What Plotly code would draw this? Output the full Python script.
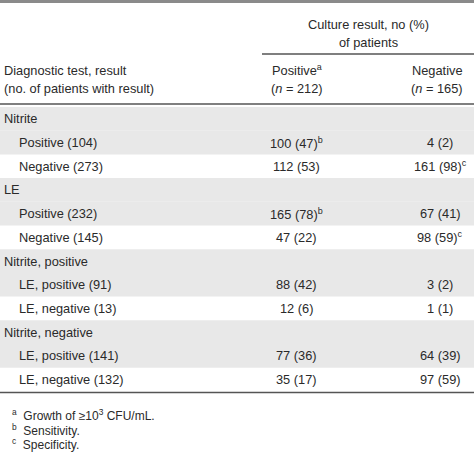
import plotly.graph_objects as go

row_labels = ["Nitrite", "Positive (104)", "Negative (273)", "LE", "Positive (232)", "Negative (145)",
              "Nitrite, positive", "LE, positive (91)", "LE, negative (13)",
              "Nitrite, negative", "LE, positive (141)", "LE, negative (132)"]
is_section = [1, 0, 0, 1, 0, 0, 1, 0, 0, 1, 0, 0]
pos_vals = ["", "100 (47)<sup>b</sup>", "112 (53)", "", "165 (78)<sup>b</sup>", "47 (22)",
            "", "88 (42)", "12 (6)", "", "77 (36)", "35 (17)"]
neg_vals = ["", "4 (2)", "161 (98)<sup>c</sup>", "", "67 (41)", "98 (59)<sup>c</sup>",
            "", "3 (2)", "1 (1)", "", "64 (39)", "97 (59)"]
shaded = [1, 1, 0, 1, 1, 0, 1, 1, 0, 1, 1, 0]
footnotes = ["<sup>a</sup>  Growth of ≥10<sup>3</sup> CFU/mL.", "<sup>b</sup>  Sensitivity.", "<sup>c</sup>  Specificity."]

W, H = 474, 454
top, rh = 107, 23.7
font = dict(family="Liberation Sans, Arial", size=12.8, color="#2a2a2a")
fig = go.Figure()
shapes, ann = [], []

def text(x, y, t, anchor="left"):
    ann.append(dict(x=x, y=y, text=t, showarrow=False, xanchor=anchor, yanchor="middle", font=font))

shapes.append(dict(type="line", x0=0, x1=W, y0=1.5, y1=1.5, line=dict(color="#8a8a8a", width=3)))
text(368, 24, "Culture result, no (%)", "center")
text(368, 42, "of patients", "center")
shapes.append(dict(type="line", x0=262, x1=W, y0=54, y1=54, line=dict(color="#555", width=1.5)))
text(2, 70, "Diagnostic test, result")
text(2, 88, "(no. of patients with result)")
text(297, 70, "Positive<sup>a</sup>", "center")
text(297, 88, "(<i>n</i> = 212)", "center")
text(437, 70, "Negative", "center")
text(437, 88, "(<i>n</i> = 165)", "center")

for i, lab in enumerate(row_labels):
    y0 = top + i * rh
    yc = y0 + rh / 2
    if shaded[i]:
        shapes.append(dict(type="rect", x0=0, x1=W, y0=y0, y1=y0 + rh, fillcolor="#e8e8e8", line=dict(width=0), layer="below"))
    text(2 if is_section[i] else 17, yc, lab)
    if pos_vals[i]:
        text(296, yc, pos_vals[i], "center")
    if neg_vals[i]:
        text(440, yc, neg_vals[i], "center")

shapes.append(dict(type="line", x0=0, x1=W, y0=top - 3, y1=top - 3, line=dict(color="#555", width=1.5)))
yb = top + len(row_labels) * rh + 1
shapes.append(dict(type="line", x0=0, x1=W, y0=yb, y1=yb, line=dict(color="#555", width=1.5)))
for j, f in enumerate(footnotes):
    ann.append(dict(x=10, y=yb + 23 + j * 14.5, text=f, showarrow=False, xanchor="left", yanchor="middle",
                    font=dict(family="Liberation Sans, Arial", size=12, color="#2a2a2a")))

fig.update_layout(width=W, height=H, margin=dict(l=0, r=0, t=0, b=0), plot_bgcolor="white", paper_bgcolor="white",
                  shapes=shapes, annotations=ann,
                  xaxis=dict(range=[0, W], visible=False, fixedrange=True),
                  yaxis=dict(range=[H, 0], visible=False, fixedrange=True))
fig.write_html("out.html", config={"displayModeBar": False})
with open("out.html", encoding="utf-8") as fh:
    html = fh.read()
html = html.replace("<head>", "<head><style>html,body{margin:0;padding:0;overflow:hidden}</style>", 1)
with open("out.html", "w", encoding="utf-8") as fh:
    fh.write(html)
